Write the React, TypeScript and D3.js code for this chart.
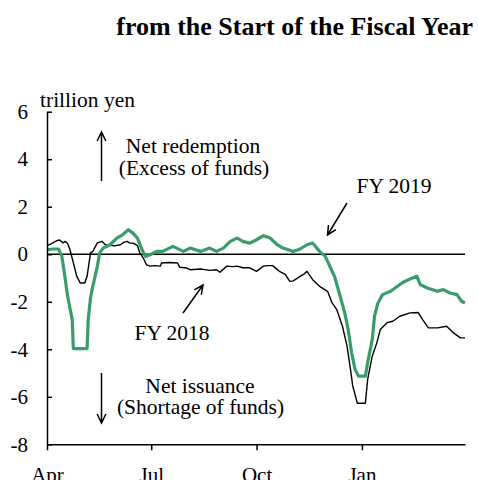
import * as d3 from "d3";
import { useEffect, useRef } from "react";

// day of fiscal year (0 = Apr 1) and cumulative value, trillion yen
const fy2018Days = [
  0, 4, 9, 11, 14, 16, 18, 20, 23, 26, 29, 33, 35, 38, 40, 44, 48, 51, 55, 59,
  64, 67, 70, 72, 76, 79, 81, 84, 87, 90, 94, 99, 100, 107, 114, 116, 122, 125,
  134, 142, 148, 151, 157, 162, 166, 171, 177, 183, 189, 192, 197, 203, 208,
  212, 215, 221, 224, 227, 232, 238, 245, 249, 253, 258, 262, 265, 267, 271,
  278, 279, 280, 284, 288, 291, 297, 302, 308, 317, 324, 328, 333, 341, 349,
  355, 361, 365,
];
const fy2018Values = [
  0.36, 0.45, 0.58, 0.6, 0.48, 0.54, 0.45, 0.2, -0.36, -0.93, -1.21, -1.21,
  -0.93, 0.06, 0.12, 0.48, 0.54, 0.4, 0.38, 0.35, 0.4, 0.5, 0.54, 0.48, 0.45,
  0.36, 0.06, -0.15, -0.45, -0.5, -0.48, -0.5, -0.37, -0.35, -0.37, -0.55,
  -0.58, -0.65, -0.62, -0.68, -0.65, -0.76, -0.5, -0.52, -0.5, -0.57, -0.57,
  -0.72, -0.5, -0.48, -0.48, -0.72, -0.85, -1.14, -1.12, -0.93, -0.85, -0.72,
  -1.07, -1.35, -1.56, -2.05, -2.33, -3.03, -3.87, -4.85, -5.55, -6.27,
  -6.27, -5.76, -5.27, -4.29, -3.73, -3.17, -2.88, -2.82, -2.61, -2.47, -2.45,
  -2.75, -3.1, -3.1, -3.03, -3.31, -3.52, -3.52,
];

const fy2019Days = [
  0, 5, 10, 13, 16, 18, 22, 23, 35, 36, 38, 40, 44, 46, 49, 55, 61, 66, 71, 75,
  79, 83, 86, 90, 96, 101, 110, 119, 125, 134, 142, 148, 154, 160, 166, 171,
  177, 183, 189, 195, 201, 206, 215, 221, 227, 232, 238, 243, 247, 251, 256,
  260, 263, 266, 269, 272, 278, 280, 284, 286, 289, 293, 300, 306, 311, 317,
  323, 326, 332, 341, 346, 352, 358, 362, 365,
];
const fy2019Values = [
  0.19, 0.22, 0.22, -0.09, -1.07, -1.77, -2.75, -3.97, -3.97, -2.75, -1.83,
  -1.35, -0.51, 0.06, 0.26, 0.4, 0.68, 0.82, 1.03, 0.89, 0.68, 0.19, -0.09,
  -0.02, 0.12, 0.12, 0.33, 0.12, 0.26, 0.12, 0.26, 0.12, 0.26, 0.54, 0.68,
  0.54, 0.47, 0.61, 0.78, 0.68, 0.4, 0.26, 0.12, 0.22, 0.4, 0.47, 0.12, -0.09,
  -0.51, -0.93, -1.77, -2.47, -3.17, -4.15, -4.85, -5.13, -5.13, -4.57, -3.59,
  -2.6, -2.05, -1.7, -1.56, -1.35, -1.18, -1.04, -0.93, -1.28, -1.42, -1.56,
  -1.49, -1.63, -1.7, -1.98, -2.05,
];

const monthTicks = [0, 91, 183, 275];
const monthLabels = ["Apr", "Jul", "Oct", "Jan"];
const yTicks = [6, 4, 2, 0, -2, -4, -6, -8];

const font = "'Liberation Serif', 'Times New Roman', serif";
const green = "#3a9c6c";

export default function App() {
  const ref = useRef<SVGSVGElement>(null);
  const width = 478;
  const height = 480;

  useEffect(() => {
    const svg = d3.select(ref.current);
    svg.selectAll("*").remove();

    const x = d3.scaleLinear([0, 365], [47, 465]);
    const y = d3.scaleLinear([-8, 6], [444.3, 111.7]);

    // title
    svg
      .append("text")
      .attr("x", 473)
      .attr("y", 34.5)
      .attr("text-anchor", "end")
      .attr("font-family", font)
      .attr("font-weight", "bold")
      .attr("font-size", 26)
      .text("from the Start of the Fiscal Year");

    svg
      .append("text")
      .attr("x", 40)
      .attr("y", 107)
      .attr("font-family", font)
      .attr("font-size", 21.5)
      .text("trillion yen");

    // zero line
    svg
      .append("line")
      .attr("x1", x(0))
      .attr("x2", x(365))
      .attr("y1", y(0))
      .attr("y2", y(0))
      .attr("stroke", "#000")
      .attr("stroke-width", 1.5);

    const path = d3.line();
    const fy18 = fy2018Days.map((d, i) => [x(d), y(fy2018Values[i])] as [number, number]);
    const fy19 = fy2019Days.map((d, i) => [x(d), y(fy2019Values[i])] as [number, number]);

    svg
      .append("path")
      .attr("d", path(fy18))
      .attr("fill", "none")
      .attr("stroke", "#000")
      .attr("stroke-width", 1.4)
      .attr("stroke-linejoin", "round");

    svg
      .append("path")
      .attr("d", path(fy19))
      .attr("fill", "none")
      .attr("stroke", green)
      .attr("stroke-width", 3.2)
      .attr("stroke-linejoin", "round");

    // axes
    const yAxis = svg
      .append("g")
      .attr("transform", `translate(${x(0)},0)`)
      .call(
        d3
          .axisLeft(y)
          .tickValues(yTicks)
          .tickFormat((d) => String(d))
          .tickSizeInner(-5)
          .tickSizeOuter(0)
          .tickPadding(19)
      );
    const xAxis = svg
      .append("g")
      .attr("transform", `translate(0,${y(-8)})`)
      .call(
        d3
          .axisBottom(x)
          .tickValues(monthTicks)
          .tickFormat((_, i) => monthLabels[i])
          .tickSizeInner(6)
          .tickSizeOuter(0)
          .tickPadding(16.5)
      );
    [yAxis, xAxis].forEach((g) => {
      g.select(".domain").attr("stroke", "#000").attr("stroke-width", 1.5);
      g.selectAll(".tick line").attr("stroke", "#000").attr("stroke-width", 1.5);
      g.selectAll(".tick text")
        .attr("font-family", font)
        .attr("font-size", 21)
        .attr("fill", "#000");
    });

    // annotations
    const ann = svg
      .append("g")
      .attr("font-family", font)
      .attr("font-size", 21.5)
      .attr("text-anchor", "middle");
    ann.append("text").attr("x", 193).attr("y", 153).text("Net redemption");
    ann.append("text").attr("x", 194).attr("y", 175).text("(Excess of funds)");
    ann.append("text").attr("x", 200).attr("y", 393).text("Net issuance");
    ann.append("text").attr("x", 200.5).attr("y", 414).text("(Shortage of funds)");
    ann.append("text").attr("x", 394).attr("y", 192.5).text("FY 2019");
    ann.append("text").attr("x", 172).attr("y", 339.5).text("FY 2018");

    const arrow = (x1: number, y1: number, x2: number, y2: number) => {
      const a = Math.atan2(y2 - y1, x2 - x1);
      const h = 10;
      const s = 0.45;
      const p = d3.path();
      p.moveTo(x1, y1);
      p.lineTo(x2, y2);
      p.moveTo(x2 - h * Math.cos(a - s), y2 - h * Math.sin(a - s));
      p.lineTo(x2, y2);
      p.lineTo(x2 - h * Math.cos(a + s), y2 - h * Math.sin(a + s));
      svg
        .append("path")
        .attr("d", p.toString())
        .attr("fill", "none")
        .attr("stroke", "#000")
        .attr("stroke-width", 1.5);
    };
    arrow(101.5, 181, 101.5, 132);
    arrow(101.5, 373, 101.5, 423);
    arrow(347, 203, 327.5, 235);
    arrow(183, 313, 203, 285);
  }, []);

  return (
    <svg
      ref={ref}
      width={width}
      height={height}
      style={{ position: "absolute", left: 0, top: 0, background: "#fff" }}
    />
  );
}
